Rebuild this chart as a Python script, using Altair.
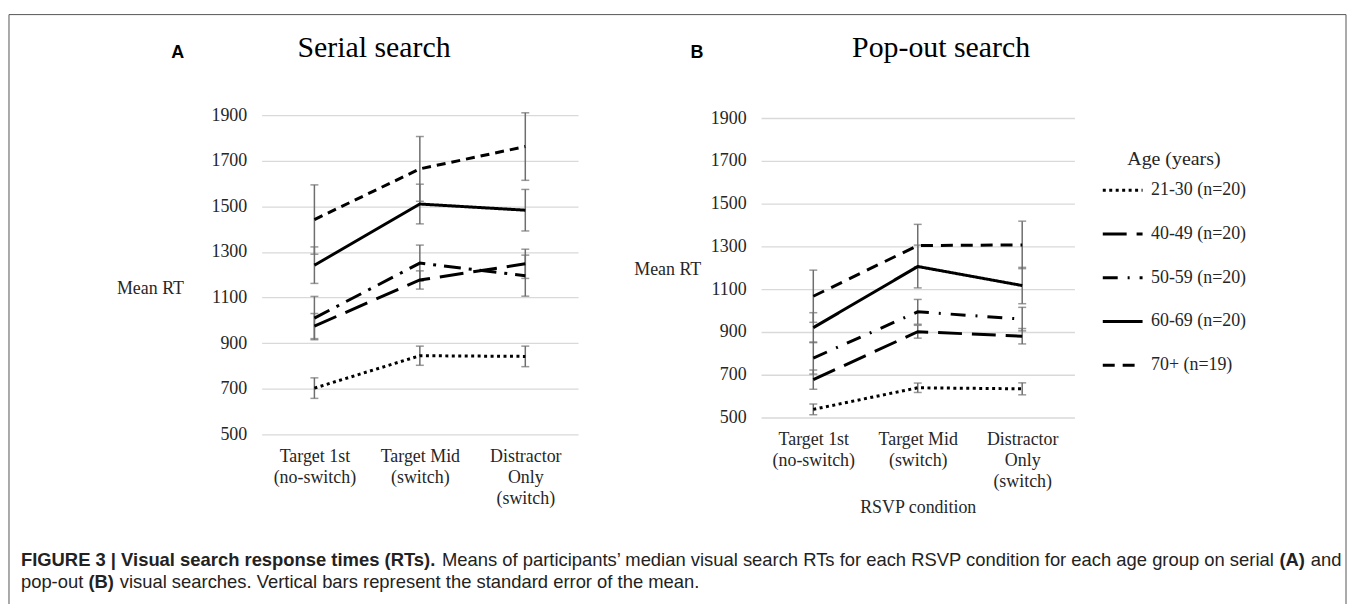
import altair as alt
import pandas as pd

# ---------------- data ----------------
conditions = ["Target 1st|(no-switch)", "Target Mid|(switch)", "Distractor|Only|(switch)"]
groups = ["21-30 (n=20)", "40-49 (n=20)", "50-59 (n=20)", "60-69 (n=20)", "70+ (n=19)"]
y_ticks = [500, 700, 900, 1100, 1300, 1500, 1700, 1900]

serial_21_30 = [703, 845, 842]
serial_40_49 = [975, 1177, 1248]
serial_50_59 = [1010, 1251, 1196]
serial_60_69 = [1242, 1510, 1483]
serial_70 = [1442, 1664, 1762]
serial_se_21_30 = [45, 42, 45]
serial_se_40_49 = [55, 40, 64]
serial_se_50_59 = [95, 79, 90]
serial_se_60_69 = [80, 87, 91]
serial_se_70 = [152, 142, 148]

pop_21_30 = [538, 639, 634]
pop_40_49 = [677, 901, 880]
pop_50_59 = [778, 994, 960]
pop_60_69 = [920, 1206, 1117]
pop_70 = [1067, 1304, 1307]
pop_se_21_30 = [25, 22, 28]
pop_se_40_49 = [45, 30, 36]
pop_se_50_59 = [75, 58, 55]
pop_se_60_69 = [70, 100, 85]
pop_se_70 = [122, 99, 111]

SERIF = "Liberation Serif"
SANS = "Liberation Sans"
TXT = "#262626"


def build_df(means, ses):
    rows = []
    for g, m_list, s_list in zip(groups, means, ses):
        for c, m, s in zip(conditions, m_list, s_list):
            rows.append({"group": g, "cond": c, "rt": m, "lo": m - s, "hi": m + s})
    return pd.DataFrame(rows)


serial_df = build_df(
    [serial_21_30, serial_40_49, serial_50_59, serial_60_69, serial_70],
    [serial_se_21_30, serial_se_40_49, serial_se_50_59, serial_se_60_69, serial_se_70],
)
pop_df = build_df(
    [pop_21_30, pop_40_49, pop_50_59, pop_60_69, pop_70],
    [pop_se_21_30, pop_se_40_49, pop_se_50_59, pop_se_60_69, pop_se_70],
)

dash_a = [[3, 3.5], [24, 10], [17, 8, 3, 8], [1, 0], [9, 6]]
dash_b = [[3, 3.5], [24, 10], [15, 10, 2, 10], [1, 0], [12, 8]]


def text_layer(txt, x, y, font=SERIF, size=18, weight="normal", align="left",
               baseline="alphabetic", color=TXT):
    return alt.Chart(pd.DataFrame({"t": [txt]})).mark_text(
        font=font, fontSize=size, fontWeight=weight, align=align,
        baseline=baseline, color=color
    ).encode(x=alt.value(x), y=alt.value(y), text="t:N")


def panel(df, dash_range, width, height, yrange, legend, mean_x, mean_y, xtitle, extras):
    common_x = dict(
        labelExpr="split(datum.label, '|')", labelAngle=0, labelPadding=13,
        labelLineHeight=21, labelBaseline="top", labelOverlap=False,
        domain=False, ticks=False, grid=False,
    )
    if xtitle:
        x_axis = alt.Axis(
            title=xtitle, titleFont=SERIF, titleFontSize=18, titleFontWeight="normal",
            titleColor=TXT, titleY=90, titleBaseline="middle", **common_x
        )
    else:
        x_axis = alt.Axis(title=None, **common_x)
    y_axis = alt.Axis(
        values=y_ticks, format="d", title="Mean RT", titleAngle=0, titleX=mean_x,
        titleY=mean_y, titleAlign="left", titleBaseline="middle", titleFont=SERIF,
        titleFontSize=18, titleFontWeight="normal", titleColor=TXT,
        domain=False, ticks=False, tickSize=0, labelPadding=15, grid=True,
        gridColor="#d9d9d9", gridWidth=1.4,
    )
    xs = alt.Scale(type="point", padding=0.5)
    ys = alt.Scale(domain=[500, 1900], range=yrange, nice=False, zero=False)
    X = alt.X("cond:N", sort=conditions, scale=xs, axis=x_axis)

    base = alt.Chart(df)
    err = base.mark_rule(color="#6e6e6e", strokeWidth=1.5).encode(
        x=X, y=alt.Y("lo:Q", scale=ys, axis=y_axis), y2="hi:Q"
    )
    cap_lo = base.mark_tick(color="#6e6e6e", thickness=1.5, size=8).encode(
        x=X, y=alt.Y("lo:Q", scale=ys, axis=y_axis)
    )
    cap_hi = base.mark_tick(color="#6e6e6e", thickness=1.5, size=8).encode(
        x=X, y=alt.Y("hi:Q", scale=ys, axis=y_axis)
    )
    lines = base.mark_line(color="black", strokeWidth=3, strokeCap="butt").encode(
        x=X, y=alt.Y("rt:Q", scale=ys, axis=y_axis),
        strokeDash=alt.StrokeDash(
            "group:N", sort=groups,
            scale=alt.Scale(domain=groups, range=dash_range),
            legend=legend,
        ),
    )
    return alt.layer(*extras, err, cap_lo, cap_hi, lines).properties(width=width, height=height)


# ---------- annotations for panel A (coordinates relative to A's plot origin) ----------
fs = 18.5
ox = -242
w_bold1 = 22.88
w_norm1 = 45.5
w_paren = 1.7
extras_a = [
    alt.Chart(pd.DataFrame({"a": [0]})).mark_rect(
        fillOpacity=0, stroke="#555555", strokeWidth=1
    ).encode(x=alt.value(-254), x2=alt.value(1090), y=alt.value(-101), y2=alt.value(520)),
    text_layer("Serial search", 113, -58, size=30, align="center", color="black"),
    text_layer("A", -91, -57, font=SANS, size=18, weight="bold", color="black"),
    text_layer("FIGURE 3 | Visual search response times (RTs).", ox, 447, font=SANS,
               size=fs, weight="bold", baseline="middle", color="#222222"),
    text_layer("Means of participants\u2019 median visual search RTs for each RSVP condition "
               "for each age group on serial", ox + w_bold1 * fs, 447, font=SANS, size=fs,
               baseline="middle", color="#222222"),
    text_layer("(A)", ox + (w_bold1 + w_norm1) * fs, 447, font=SANS, size=fs, weight="bold",
               baseline="middle", color="#222222"),
    text_layer("and", ox + (w_bold1 + w_norm1 + w_paren) * fs, 447, font=SANS, size=fs,
               baseline="middle", color="#222222"),
    text_layer("pop-out", ox, 469, font=SANS, size=fs, baseline="middle", color="#222222"),
    text_layer("(B)", ox + 3.669 * fs, 469, font=SANS, size=fs, weight="bold",
               baseline="middle", color="#222222"),
    text_layer("visual searches. Vertical bars represent the standard error of the mean.",
               ox + (3.669 + w_paren) * fs, 469, font=SANS, size=fs, baseline="middle",
               color="#222222"),
]

extras_b = [
    text_layer("Pop-out search", 181, -58, size=30, align="center", color="black"),
    text_layer("B", -71, -57, font=SANS, size=18, weight="bold", color="black"),
]

legend_b = alt.Legend(
    title="Age (years)", orient="none", legendX=342, legendY=34,
    symbolType="stroke", symbolSize=1600, symbolStrokeWidth=3, symbolStrokeColor="black",
    labelFont=SERIF, labelFontSize=18, labelOffset=7, labelColor=TXT, labelLimit=300,
    titleFont=SERIF, titleFontSize=20, titleFontWeight="normal", titleColor=TXT,
    titleAnchor="middle", titlePadding=0, rowPadding=13, padding=0,
)

panel_a = panel(serial_df, dash_a, 318, 321, [321, 0], None, -146, 174, None, extras_a)
panel_b = panel(pop_df, dash_b, 315, 304, [304, 3], legend_b, -128, 155,
                "RSVP condition", extras_b)

chart = alt.hconcat(panel_a, panel_b, spacing=184, bounds="flush").resolve_scale(
    strokeDash="independent"
).properties(
    padding={"left": 0, "top": 4, "right": 0, "bottom": 0}
).configure_view(strokeWidth=0).configure_axis(
    labelFont=SERIF, labelFontSize=18, labelColor=TXT
)

chart.save("out.html", embed_options={"renderer": "svg", "actions": False})
